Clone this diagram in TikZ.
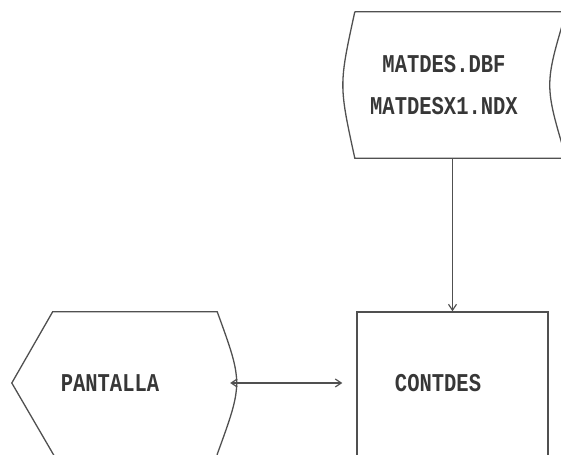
\documentclass[tikz,border=0pt]{standalone}
\usepackage{fontspec}
\newfontfamily\dotfont{Liberation Mono}
\usetikzlibrary{arrows.meta,positioning}
\definecolor{inkgray}{RGB}{80,80,80}
\definecolor{textgray}{RGB}{55,55,55}
\newcommand{\tallText}[1]{\scalebox{1}[1.25]{\begin{tabular}{@{}c@{}}#1\end{tabular}}}
\tikzset{
  flowarea/.style={draw=none, inner sep=0pt},
  flowbox/.style={draw=inkgray, line width=1.3bp, inner sep=0pt},
  flowline/.style={draw=inkgray, line width=1.3bp},
  flowlabel/.style={
    text=textgray,
    align=center,
    inner sep=0pt,
    font=\dotfont\bfseries\fontsize{20.5bp}{34bp}\selectfont
  },
  flowarrow/.style={-{Straight Barb[length=6bp,width=8bp]}, line width=1.2bp, draw=inkgray}
}
\begin{document}
\begin{tikzpicture}[x=1bp,y=1bp]
    \useasboundingbox (0,0) rectangle (561,455);

    \node[flowarea, minimum width=211bp, minimum height=146bp] (store) at (460.5,370) {};
    \node[flowarea, minimum width=218bp, minimum height=142bp] (screen) at (121,72) {};
    \node[flowbox, minimum width=191bp, minimum height=163bp] (contdes) at (452.5,61.5) {};

    % stored data symbol
    \draw[flowline] (store.north west) -- (store.north east)
      .. controls ([xshift=-22]store.east) .. (store.south east)
      -- (store.south west)
      .. controls ([xshift=-16]store.west) .. (store.north west);

    % display symbol
    \draw[flowline] ([xshift=44.5,yshift=-5]screen.south west) -- (screen.west)
      -- ([xshift=41]screen.north west) -- ([xshift=-13]screen.north east)
      .. controls ([xshift=13]screen.east) .. ([xshift=-13]screen.south east)
      -- ++(-1,-6);

    \node[flowlabel] (storetxt) at (444,370) {\tallText{MATDES.DBF\\MATDESX1.NDX}};
    \node[flowlabel] (screentxt) at (110,72) {\tallText{PANTALLA}};
    \node[flowlabel] (contdestxt) at (438,72) {\tallText{CONTDES}};

    \draw[flowarrow] (contdes.north |- store.south) -- (contdes.north);
    \draw[flowarrow, {Straight Barb[length=6bp,width=8bp]}-{Straight Barb[length=6bp,width=8bp]}, shorten >=14bp]
      (screen.east) -- (screen.east -| contdes.west);
\end{tikzpicture}
\end{document}
